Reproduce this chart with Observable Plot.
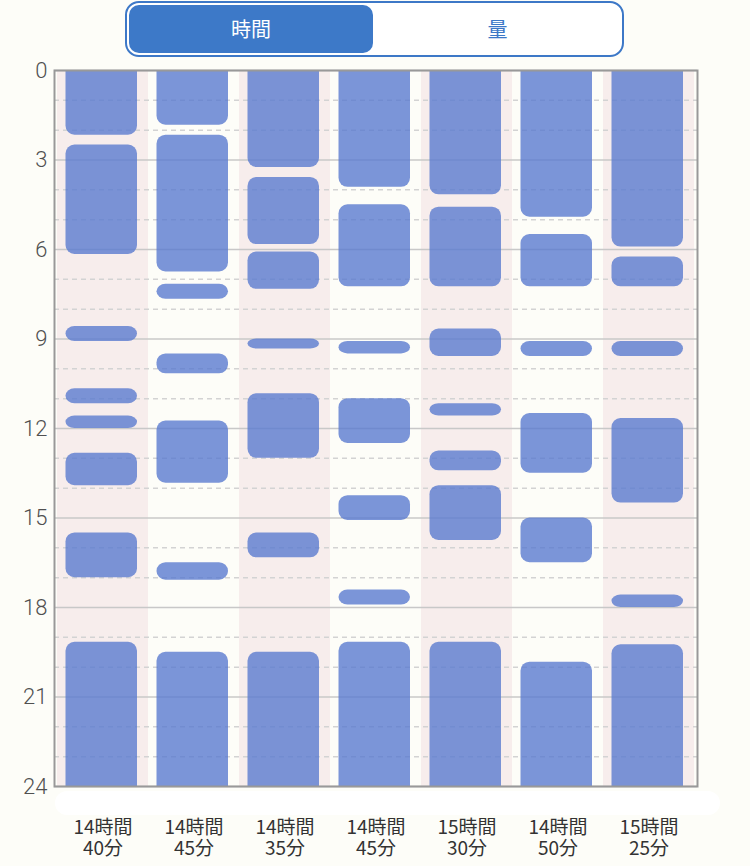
<!DOCTYPE html>
<html>
<head>
<meta charset="utf-8">
<script src="https://cdn.jsdelivr.net/npm/d3@7"></script>
<script src="https://cdn.jsdelivr.net/npm/@observablehq/plot@0.6"></script>
<style>
  html, body { margin: 0; padding: 0; background: #fdfdf8; }
  body { font-family: "Noto Sans CJK JP", "Noto Sans", sans-serif; }
  #wrap { position: relative; width: 750px; height: 866px; overflow: hidden; }
  #chart { position: absolute; left: 0; top: 0; }
  #strip { position: absolute; left: 55px; top: 791px; width: 665px; height: 24px; background: #ffffff; border-radius: 12px; }
  #seg { position: absolute; left: 125px; top: 1px; width: 495px; height: 52px; border: 2px solid #3d78c7; border-radius: 14px; background: #ffffff; }
  #seg div { position: absolute; top: 2px; height: 48px; line-height: 48px; text-align: center; font-size: 20px; }
  #seg .on { left: 2px; width: 244px; background: #3d79c8; color: #ffffff; border-radius: 10px; }
  #seg .off { left: 246px; width: 249px; color: #3d78c7; }
</style>
</head>
<body>
<div id="wrap">
  <div id="strip"></div>
  <div id="chart"></div>
  <div id="seg"><div class="on">時間</div><div class="off">量</div></div>
</div>
<script>
// Column labels (total sleep per day), two lines each
const dayHoursLabels = ["14時間", "14時間", "14時間", "14時間", "15時間", "14時間", "15時間"];
const dayMinutesLabels = ["40分", "45分", "35分", "45分", "30分", "50分", "25分"];

// Sleep intervals per day, in minutes from 0:00 ([start, end])
const day1 = [[0,130],[150,370],[515,545],[640,670],[695,720],[770,835],[930,1020],[1150,1440]];
const day2 = [[0,110],[130,405],[430,460],[570,610],[705,830],[990,1025],[1170,1440]];
const day3 = [[0,195],[215,350],[365,440],[540,560],[650,780],[930,980],[1170,1440]];
const day4 = [[0,235],[270,435],[545,570],[660,750],[855,905],[1045,1075],[1150,1440]];
const day5 = [[0,250],[275,435],[520,575],[670,695],[765,805],[835,945],[1150,1440]];
const day6 = [[0,295],[330,435],[545,575],[690,810],[900,990],[1190,1440]];
const day7 = [[0,355],[375,435],[545,575],[700,870],[1055,1080],[1155,1440]];

// Axis ticks (hours)
const majorHours = [0, 3, 6, 9, 12, 15, 18, 21, 24];
const minorHours = [1, 2, 4, 5, 7, 8, 10, 11, 13, 14, 16, 17, 19, 20, 22, 23];

const days = [day1, day2, day3, day4, day5, day6, day7];
const dayIndex = days.map((_, i) => i);
const stripeDays = dayIndex.filter(i => i % 2 === 0);
const segments = days.flatMap((d, i) => d.map(([s, e]) => ({day: i, start: s, end: e})));

const chart = Plot.plot({
  width: 750,
  height: 866,
  marginTop: 70,
  marginBottom: 80,
  marginLeft: 54,
  marginRight: 53,
  style: { background: "transparent", fontFamily: "'Noto Sans CJK JP', 'Noto Sans', sans-serif" },
  x: { type: "band", domain: dayIndex, padding: 0, axis: null, label: null },
  y: { domain: [0, 24], reverse: true, axis: null, label: null },
  marks: [
    Plot.barY(stripeDays, { x: d => d, y1: 0, y2: 24, fill: "#f7edec" }),
    Plot.ruleY(minorHours, { stroke: "#d3d3d3", strokeWidth: 1.5, strokeDasharray: "5,4" }),
    Plot.ruleY(majorHours, { stroke: "#c8c8c8", strokeWidth: 1.5 }),
    Plot.barY(segments, {
      x: "day",
      y1: d => d.start === 0 ? -1 : d.start / 60,
      y2: d => d.end === 1440 ? 25 : d.end / 60,
      fill: "#5a7ad0",
      fillOpacity: 0.8,
      rx: 9,
      insetLeft: 8.5,
      insetRight: 11,
      clip: true
    }),
    Plot.frame({ stroke: "#999999", strokeWidth: 2 }),
    Plot.axisY({ ticks: majorHours, tickSize: 0, tickPadding: 7, fontSize: 22, fontWeight: 300, color: "#505050", label: null, fontFamily: "Roboto, 'Liberation Sans', sans-serif" }),
    Plot.axisX({ anchor: "bottom", tickSize: 0, tickPadding: 34, fontSize: 19, color: "#333333", label: null, tickFormat: i => dayHoursLabels[i] }),
    Plot.axisX({ anchor: "bottom", tickSize: 0, tickPadding: 55, fontSize: 19, color: "#333333", label: null, tickFormat: i => dayMinutesLabels[i] })
  ]
});
document.getElementById("chart").appendChild(chart);
</script>
</body>
</html>
